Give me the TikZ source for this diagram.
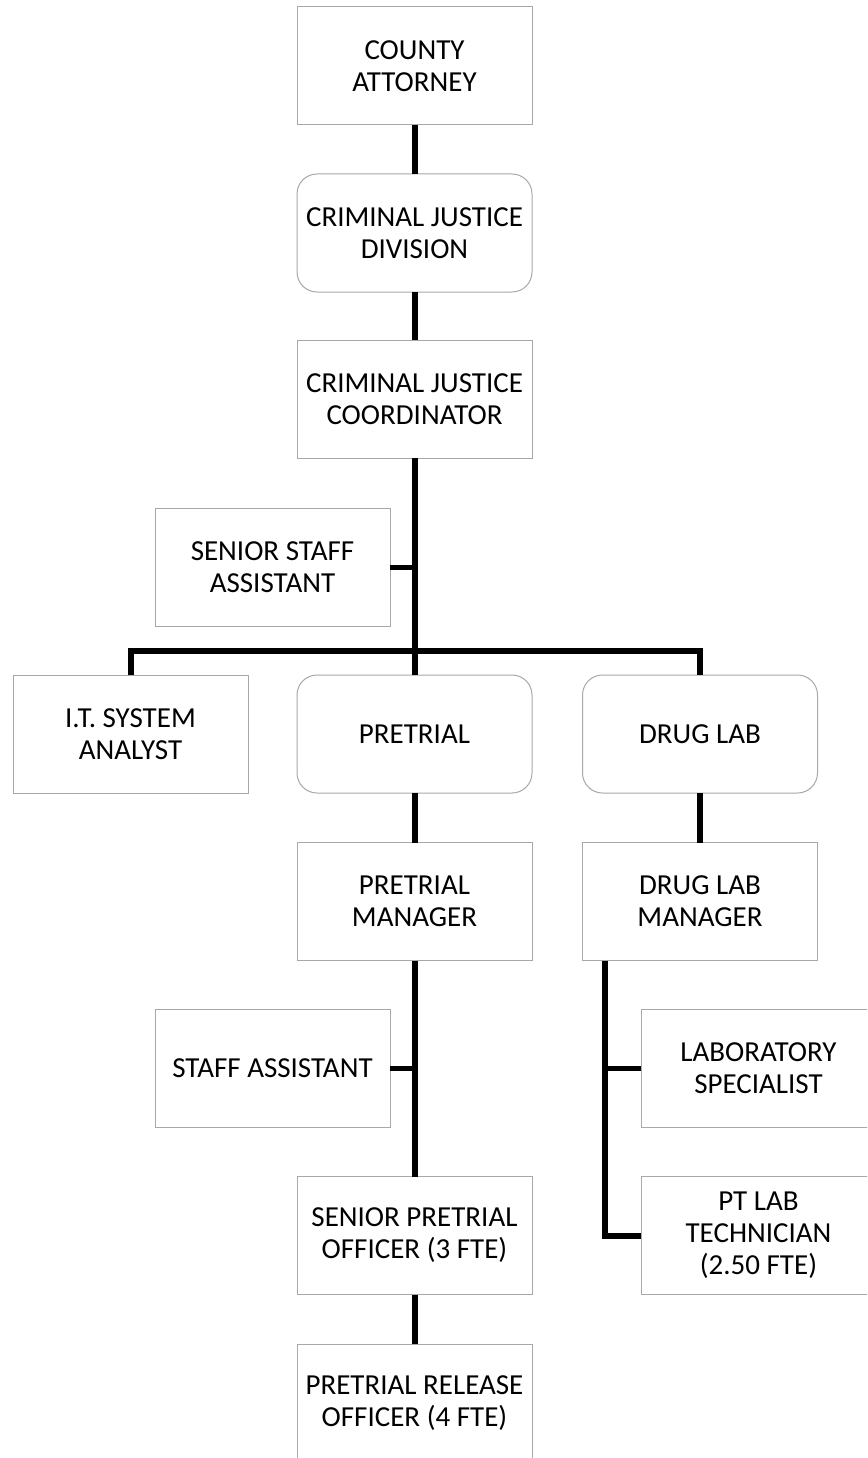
\documentclass[tikz,border=0pt]{standalone}
\usepackage{fontspec}
\setmainfont{Carlito}
\usetikzlibrary{calc}
\definecolor{boxline}{RGB}{168,168,168}
\tikzset{
  orgbox/.style={draw=boxline, line width=1pt, fill=white, minimum width=235pt,
    minimum height=118pt, inner sep=0pt, outer sep=0pt, align=center,
    font=\fontsize{29}{32}\selectfont},
  unitbox/.style={orgbox, rounded corners=20pt},
  link/.style={line width=6pt, black},
  sidelink/.style={line width=5pt, black}
}
\begin{document}
\begin{tikzpicture}[x=1pt, y=-1pt]
\useasboundingbox (0,0) rectangle (867,1458);
\clip (0,0) rectangle (867,1458);

% top of the chain
\node[orgbox]  (ca)  at (414.5,66)   {COUNTY\\ATTORNEY};
\node[unitbox] (cjd) at (414.5,233)  {CRIMINAL JUSTICE\\DIVISION};
\node[orgbox]  (cjc) at (414.5,399)  {CRIMINAL JUSTICE\\COORDINATOR};
\node[orgbox]  (ssa) at (272.5,567)  {SENIOR STAFF\\ASSISTANT};

% second row
\node[orgbox]  (it)  at (130.5,734)  {I.T. SYSTEM\\ANALYST};
\node[unitbox] (pre) at (414.5,734)  {PRETRIAL};
\node[unitbox] (dl)  at (700,734)    {DRUG LAB};

% pretrial branch
\node[orgbox]  (pm)  at (414.5,901.5) {PRETRIAL\\MANAGER};
\node[orgbox]  (sa)  at (272.5,1068)  {STAFF ASSISTANT};
\node[orgbox]  (spo) at (414.5,1235.5) {SENIOR PRETRIAL\\OFFICER (3 FTE)};
\node[orgbox]  (pro) at (414.5,1403)  {PRETRIAL RELEASE\\OFFICER (4 FTE)};

% drug lab branch
\node[orgbox]  (dlm) at (700,901.5)   {DRUG LAB\\MANAGER};
\node[orgbox]  (ls)  at (758.5,1068)  {LABORATORY\\SPECIALIST};
\node[orgbox]  (ptl) at (758.5,1235.5) {PT LAB\\TECHNICIAN\\(2.50 FTE)};

% connectors
\coordinate (bar) at (0,650.5);
\coordinate (dls) at ($(dlm.south west)+(22.5,0)$);

\draw[link] (ca) -- (cjd);
\draw[link] (cjd) -- (cjc);
\draw[link] (cjc.south) -- (pre.north);
\draw[sidelink] (ssa.east) -- (ssa.east -| cjc.south);
\draw[link] (it.north) |- (bar -| dl.north) -- (dl.north);

\draw[link] (pre) -- (pm);
\draw[link] (pm.south) -- (spo.north);
\draw[sidelink] (sa.east) -- (sa.east -| pm.south);
\draw[link] (spo) -- (pro);

\draw[link] (dl) -- (dlm);
\draw[link] (dls) |- (ptl.west);
\draw[sidelink] (ls.west) -- (ls.west -| dls);
\end{tikzpicture}
\end{document}
